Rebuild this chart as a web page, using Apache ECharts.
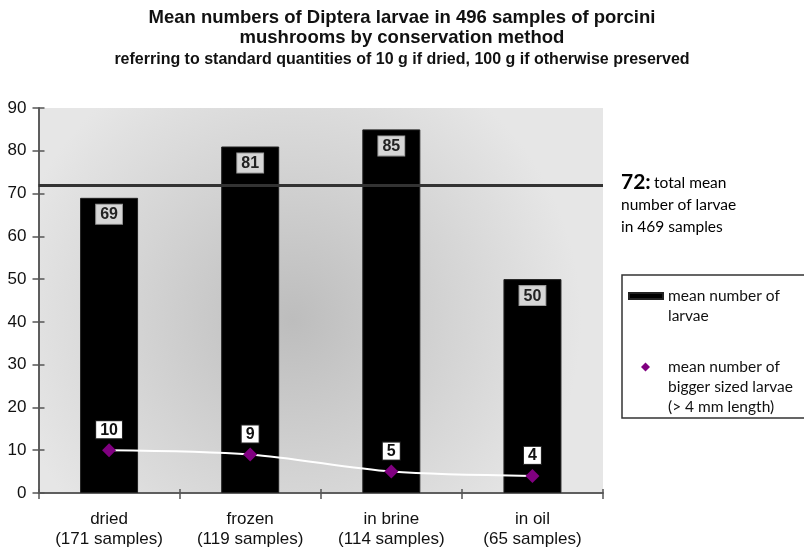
<!DOCTYPE html>
<html><head><meta charset="utf-8">
<script src="https://cdn.jsdelivr.net/npm/echarts@6/dist/echarts.min.js"></script>
<style>html,body{margin:0;padding:0;background:#fff}#c{width:804px;height:550px}</style>
</head><body><div id="c"></div>
<script>
const categories = ['dried\n(171 samples)', 'frozen\n(119 samples)', 'in brine\n(114 samples)', 'in oil\n(65 samples)'];
const meanLarvae = [69, 81, 85, 50];
const meanBigLarvae = [10, 9, 5, 4];
const totalMean = 72;
const yTicks = [0, 10, 20, 30, 40, 50, 60, 70, 80, 90];

const NARROW = '"Liberation Sans Narrow", "Arial Narrow", "Liberation Sans", Arial, sans-serif';
const SANS = 'Lato, "Open Sans", sans-serif';

const chart = echarts.init(document.getElementById('c'));
const axisCommon = {
  type: 'value', min: yTicks[0], max: yTicks[yTicks.length - 1], interval: 10,
  splitLine: { show: false },
  axisLine: { show: true, lineStyle: { color: '#555', width: 1.5 } }
};
const xCommon = {
  type: 'category', data: categories, boundaryGap: true,
  axisLine: { lineStyle: { color: '#555', width: 1.5 } }
};
chart.setOption({
  animation: false,
  title: [
    { text: 'Mean numbers of Diptera larvae in 496 samples of porcini\nmushrooms by conservation method', left: 'center', top: 3,
      textStyle: { fontFamily: NARROW, fontWeight: 'bold', fontSize: 18.5, lineHeight: 20, color: '#111' } },
    { text: 'referring to standard quantities of 10 g if dried, 100 g if otherwise preserved', left: 'center', top: 47,
      textStyle: { fontFamily: NARROW, fontWeight: 'bold', fontSize: 16, color: '#111' } }
  ],
  grid: { left: 38.5, right: 201, top: 108, bottom: 57, show: true, borderWidth: 0,
    backgroundColor: new echarts.graphic.RadialGradient(0.45, 0.55, 0.75, [
      { offset: 0, color: '#bdbdbd' }, { offset: 0.55, color: '#d4d4d4' }, { offset: 1, color: '#e6e6e6' }
    ]) },
  xAxis: [
    Object.assign({}, xCommon, {
      axisTick: { show: true, length: 6, lineStyle: { color: '#555', width: 1.5 } },
      axisLabel: { fontFamily: NARROW, fontSize: 17, color: '#111', lineHeight: 20, margin: 16 } }),
    Object.assign({}, xCommon, { position: 'bottom', offset: 0,
      axisTick: { show: true, inside: true, length: 4, lineStyle: { color: '#555', width: 1.5 } },
      axisLabel: { show: false } })
  ],
  yAxis: [
    Object.assign({}, axisCommon, {
      axisTick: { show: true, length: 6, lineStyle: { color: '#555', width: 1.5 } },
      axisLabel: { fontFamily: NARROW, fontSize: 17, color: '#111', margin: 12 }
    }),
    Object.assign({}, axisCommon, { position: 'left', offset: 0,
      axisTick: { show: true, inside: true, length: 6, lineStyle: { color: '#555', width: 1.5 } },
      axisLabel: { show: false } })
  ],
  legend: [
    { left: 628, top: 266, orient: 'vertical', itemWidth: 34, itemHeight: 6, padding: 0,
      data: [{ name: 'mean number of larvae', icon: 'rect' }],
      formatter: () => '\nmean number of\nlarvae',
      textStyle: { fontFamily: SANS, fontSize: 15.5, lineHeight: 20, color: '#111' } },
    { left: 641, top: 317, orient: 'vertical', itemWidth: 9, itemHeight: 9, padding: 0,
      data: [{ name: 'mean number of bigger sized larvae', icon: 'diamond' }],
      formatter: () => '\n\nmean number of\nbigger sized larvae\n(> 4 mm length)',
      textStyle: { fontFamily: SANS, fontSize: 15.5, lineHeight: 20, color: '#111', padding: [0, 0, 0, 13] } }
  ],
  graphic: [
    { type: 'rect', shape: { x: 622, y: 275, width: 190, height: 143 }, style: { fill: 'none', stroke: '#333', lineWidth: 1.5 } },
    { type: 'text', left: 621, top: 172, style: {
      text: '{b|72:} {s|total mean}\n{s|number of larvae}\n{s|in 469 samples}',
      rich: { b: { fontFamily: SANS, fontWeight: 'bold', fontSize: 21, color: '#222' },
              s: { fontFamily: SANS, fontSize: 15.5, color: '#222', lineHeight: 22 } } } }
  ],
  series: [
    { name: 'mean number of larvae', type: 'bar', data: meanLarvae, barWidth: 58,
      itemStyle: { color: '#000', borderColor: '#222', borderWidth: 1 },
      label: { show: true, position: 'insideTop', distance: 7, fontFamily: NARROW, fontWeight: 'bold', fontSize: 16, color: '#222',
        backgroundColor: '#d6d6d6', borderColor: '#999', borderWidth: 1, padding: [2, 4, 1, 4] },
      markLine: { silent: true, symbol: ['none', 'none'], label: { show: false },
        lineStyle: { color: '#333', width: 3, type: 'solid' }, data: [{ yAxis: totalMean }] },
      z: 2 },
    { name: 'mean number of bigger sized larvae', type: 'line', data: meanBigLarvae, smooth: 0.3,
      symbol: 'diamond', symbolSize: 14,
      itemStyle: { color: '#800080' }, lineStyle: { color: '#fff', width: 2 },
      label: { show: true, position: 'top', distance: 5, fontFamily: NARROW, fontWeight: 'bold', fontSize: 16, color: '#111',
        backgroundColor: '#fff', borderColor: '#222', borderWidth: 1, padding: [1, 4, 0, 4] },
      z: 5 }
  ]
});
</script></body></html>
